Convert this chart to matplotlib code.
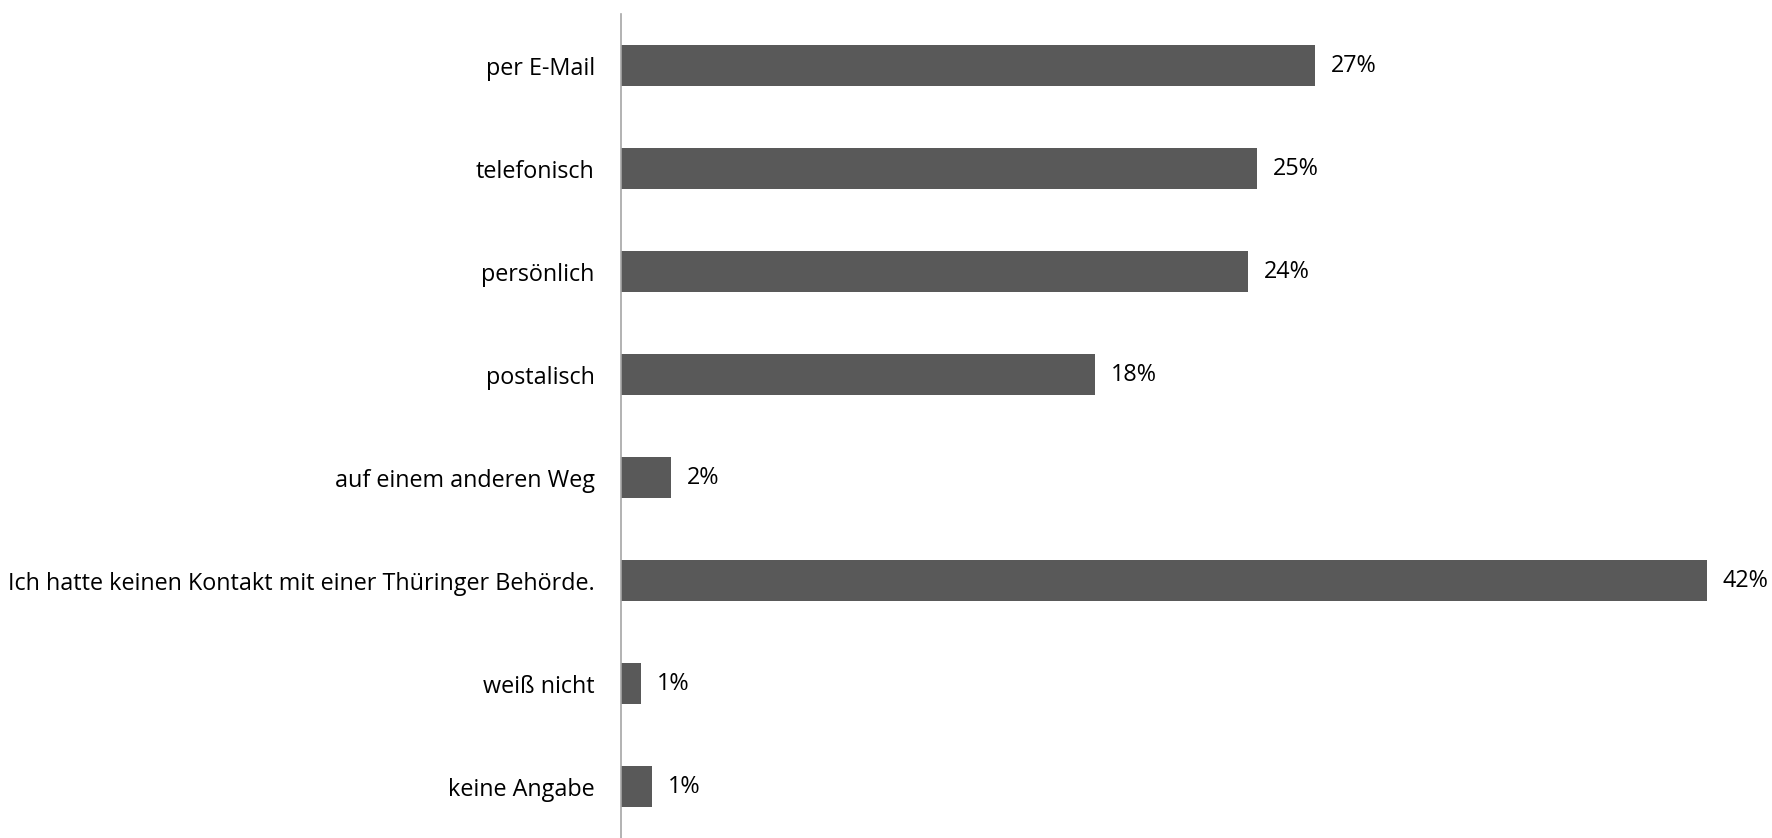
import matplotlib.pyplot as plt

plt.rcParams['font.family'] = ['Open Sans', 'DejaVu Sans']

# answers, top to bottom as in the chart
categories = ['per E-Mail', 'telefonisch', 'persönlich', 'postalisch',
              'auf einem anderen Weg',
              'Ich hatte keinen Kontakt mit einer Thüringer Behörde.',
              'weiß nicht', 'keine Angabe']
shares = [26.85, 24.6, 24.25, 18.33, 1.93, 42.0, 0.75, 1.18]

fig = plt.figure(figsize=(17.72, 8.38), dpi=100)
ax = fig.add_axes([0.3506, 0.0, 0.6417, 0.983])

pos = list(range(len(categories)))
ax.barh(pos, shares, height=0.4, color='#595959')
ax.set_ylim(len(categories) - 0.5, -0.5)
ax.set_xlim(0, 44)

ax.set_yticks(pos)
ax.set_yticklabels(categories, fontsize=16.8)
ax.tick_params(axis='y', length=0, pad=19)
ax.set_xticks([])

for s in ['top', 'right', 'bottom']:
    ax.spines[s].set_visible(False)
ax.spines['left'].set_color('#a6a6a6')
ax.spines['left'].set_linewidth(1.2)

# value labels right of each bar
for p, v in zip(pos, shares):
    ax.annotate('%d%%' % round(v), (v, p), xytext=(11.5, 0),
                textcoords='offset points', va='center', ha='left',
                fontsize=16.8)

fig.savefig('out.png', dpi=100)
